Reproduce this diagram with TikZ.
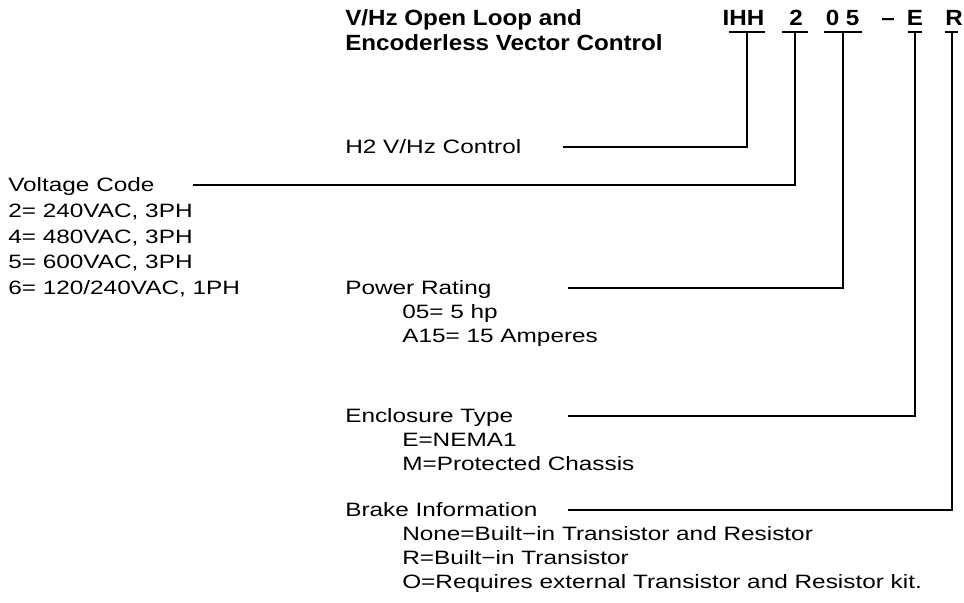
\documentclass[tikz,border=0pt]{standalone}
\usepackage{fontspec}
\setmainfont{Liberation Sans}[FakeStretch=1.26]
\newfontfamily\headfont{Liberation Sans}[FakeStretch=1.1]
\usetikzlibrary{positioning}

\begin{document}
\begin{tikzpicture}[x=0.75pt, y=-0.75pt,
    txt/.style={anchor=base west, inner sep=0pt, font=\fontsize{14.5}{16}\selectfont},
    hdr/.style={anchor=base west, inner sep=0pt, font=\headfont\bfseries\fontsize{16.5}{18}\selectfont},
    code/.style={anchor=base, inner sep=0pt, font=\headfont\bfseries\fontsize{16.5}{18}\selectfont},
    lead/.style={line width=1.3pt, draw=black}]
  \useasboundingbox (0,0) rectangle (964,603);
  \node[hdr] (titlea) at (345,26) {V/Hz Open Loop and};
  \node[hdr] (titleb) at (345,50) {Encoderless Vector Control};
  % the catalog number
  \foreach \name/\x/\txt in {ihh/743.5/IHH, volt/796/2, pwa/832.5/0, pwb/852.5/5, dash/888/–, encl/915/E, brk/954/R}
    \node[code] (\name) at (\x,25) {\txt};
  \foreach \name/\xa/\xb/\xm in {ihh/729/765/747, volt/782/808/795, pw/824/862/843, encl/908/922/915, brk/945/958/952} {
    \draw[lead] (\xa,32) -- (\xb,32);
    \coordinate (\name bar) at (\xm,32);
  }
  % the fields
  \node[txt] (ctl) at (345,153) {H2 V/Hz Control};
  \foreach \i/\y/\txt in {0/191/{Voltage Code}, 1/217/{2= 240VAC, 3PH}, 2/243/{4= 480VAC, 3PH}, 3/268/{5= 600VAC, 3PH}, 4/294/{6= 120/240VAC, 1PH}}
    \node[txt] (vcode\i) at (8,\y) {\txt};
  \node[txt] (prate) at (345,294) {Power Rating};
  \node[txt] (prate1) at (402,318) {05= 5 hp};
  \node[txt] (prate2) at (402,342) {A15= 15 Amperes};
  \node[txt] (etype) at (345,422) {Enclosure Type};
  \node[txt] (etype1) at (402,446) {E=NEMA1};
  \node[txt] (etype2) at (402,470) {M=Protected Chassis};
  \node[txt] (binfo) at (345,516) {Brake Information};
  \node[txt] (binfo1) at (402,540) {None=Built−in Transistor and Resistor};
  \node[txt] (binfo2) at (402,564) {R=Built−in Transistor};
  \node[txt] (binfo3) at (402,588) {O=Requires external Transistor and Resistor kit.};
  % leaders
  \coordinate (ctlend) at (563,147);
  \coordinate (vcodeend) at (193,185);
  \coordinate (prateend) at (568,288);
  \coordinate (etypeend) at (568,416);
  \coordinate (binfoend) at (568,510);
  \draw[lead] (ctlend) -| (ihhbar);
  \draw[lead] (vcodeend) -| (voltbar);
  \draw[lead] (prateend) -| (pwbar);
  \draw[lead] (etypeend) -| (enclbar);
  \draw[lead] (binfoend) -| (brkbar);
\end{tikzpicture}
\end{document}
